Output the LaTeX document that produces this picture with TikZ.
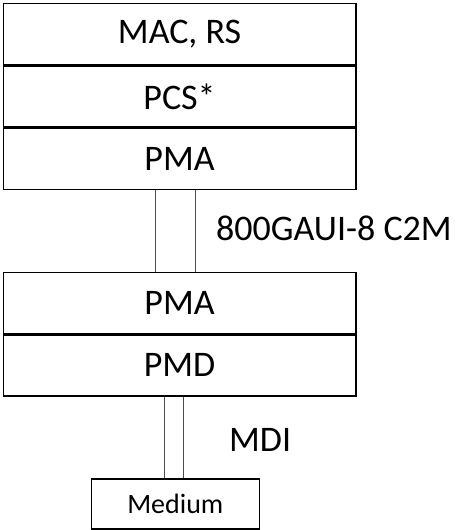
\documentclass[tikz,border=0pt]{standalone}
\usepackage{fontspec}
\setmainfont{Carlito}
\begin{document}
\begin{tikzpicture}[x=1pt,y=-1pt,
  layer/.style={draw=black,line width=1.6pt,minimum width=352.5pt,minimum height=61pt,inner sep=0pt,font=\fontsize{36}{40}\selectfont,anchor=north west},
  medbox/.style={draw=black,line width=1.6pt,minimum width=168pt,minimum height=50pt,inner sep=0pt,font=\fontsize{28}{32}\selectfont,anchor=north west},
  wire/.style={draw=black!70,line width=1pt},
  lbl/.style={font=\fontsize{36}{40}\selectfont,inner sep=0pt,anchor=west}]
\useasboundingbox (0,0) rectangle (461,530);
\node[layer] (mac) at (2.5,2.5) {MAC, RS};
\node[layer] (pcs) at (mac.south west) {PCS*};
\node[layer] (pma1) at (pcs.south west) {PMA};
\node[layer] (pma2) at (2.5,271.5) {PMA};
\node[layer] (pmd) at (pma2.south west) {PMD};
\node[medbox] (med) at (90.5,478) {Medium};
\draw[wire] (pma1.south west) ++(153,0) coordinate (a1) -- (a1 |- pma2.north);
\draw[wire] (pma1.south west) ++(193,0) coordinate (a2) -- (a2 |- pma2.north);
\draw[wire] (pmd.south west) ++(162,0) coordinate (b1) -- (b1 |- med.north);
\draw[wire] (pmd.south west) ++(181,0) coordinate (b2) -- (b2 |- med.north);
\node[lbl] (l1) at (216,228) {800GAUI-8 C2M};
\node[lbl] (l2) at (229,440) {MDI};
\end{tikzpicture}
\end{document}
